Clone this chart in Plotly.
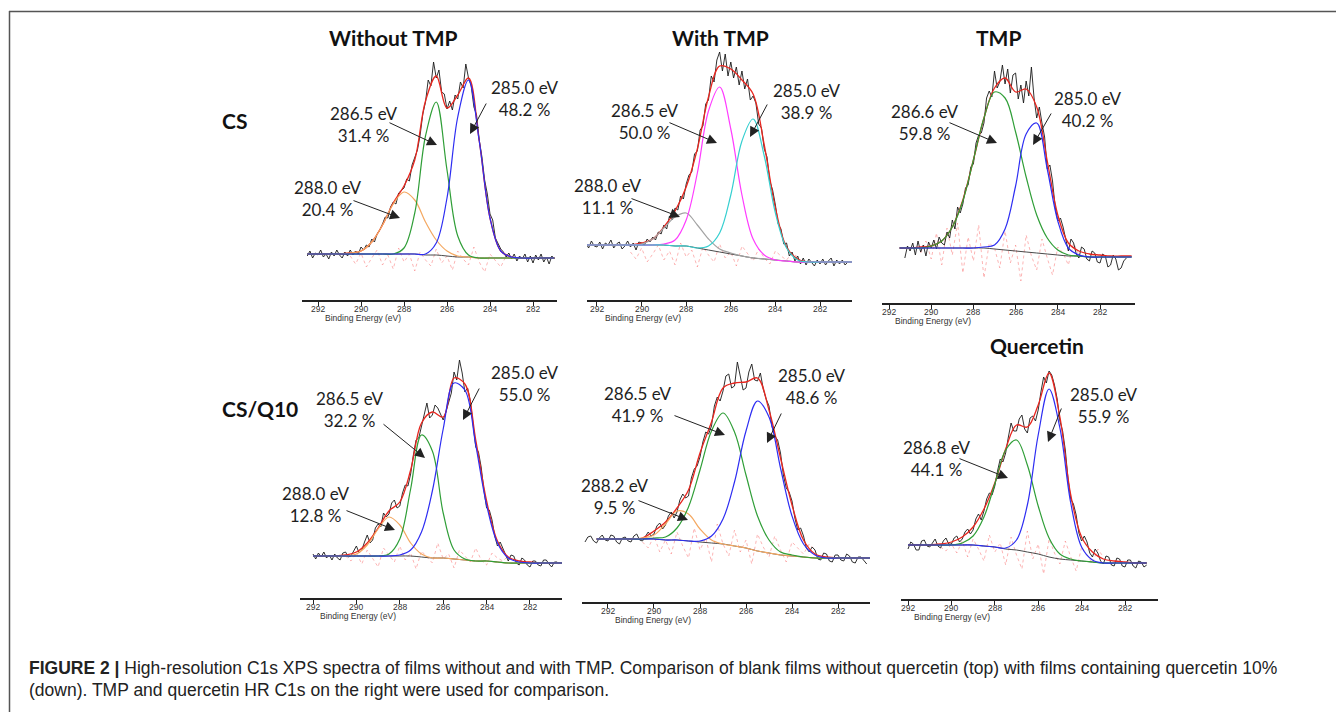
import plotly.graph_objects as go

W, H = 1344, 712
OFF = 8  # the page body adds an 8 px margin; reference pixel coords are shifted by it

# ---------------- shared energy grids (eV) ----------------
E_FIT = [292.5, 292.0, 291.5, 291.0, 290.5, 290.0, 289.5, 289.0, 288.5, 288.0, 287.5, 287.0,
         286.5, 286.0, 285.5, 285.0, 284.5, 284.0, 283.5, 283.0, 282.5, 282.0, 281.5, 281.0, 280.5]
E_RAW = [293.0, 292.875, 292.75, 292.625, 292.5, 292.375, 292.25, 292.125,
         292.0, 291.875, 291.75, 291.625, 291.5, 291.375, 291.25, 291.125,
         291.0, 290.875, 290.75, 290.625, 290.5, 290.375, 290.25, 290.125,
         290.0, 289.875, 289.75, 289.625, 289.5, 289.375, 289.25, 289.125,
         289.0, 288.875, 288.75, 288.625, 288.5, 288.375, 288.25, 288.125,
         288.0, 287.875, 287.75, 287.625, 287.5, 287.375, 287.25, 287.125,
         287.0, 286.875, 286.75, 286.625, 286.5, 286.375, 286.25, 286.125,
         286.0, 285.875, 285.75, 285.625, 285.5, 285.375, 285.25, 285.125,
         285.0, 284.875, 284.75, 284.625, 284.5, 284.375, 284.25, 284.125,
         284.0, 283.875, 283.75, 283.625, 283.5, 283.375, 283.25, 283.125,
         283.0, 282.875, 282.75, 282.625, 282.5, 282.375, 282.25, 282.125,
         282.0, 281.875, 281.75, 281.625, 281.5, 281.375, 281.25, 281.125,
         281.0, 280.875, 280.75]
E_RES = [290.5, 290.25, 290.0, 289.75, 289.5, 289.25, 289.0, 288.75, 288.5, 288.25, 288.0, 287.75,
         287.5, 287.25, 287.0, 286.75, 286.5, 286.25, 286.0, 285.75, 285.5, 285.25, 285.0, 284.75,
         284.5, 284.25, 284.0, 283.75, 283.5, 283.25, 283.0]

TICK_VALS = [292, 290, 288, 286, 284, 282]
TICK_TEXT = ["292", "290", "288", "286", "284", "282"]
X_TITLE = "Binding Energy (eV)"
COLUMN_TITLES = ["Without TMP", "With TMP", "TMP", "Quercetin"]
ROW_LABELS = ["CS", "CS/Q10"]
CAPTION_1 = ("<b>FIGURE 2 |</b> High-resolution C1s XPS spectra of films without and with TMP. "
             "Comparison of blank films without quercetin (top) with films containing quercetin 10%")
CAPTION_2 = "(down). TMP and quercetin HR C1s on the right were used for comparison."

# ---------------- panel 1 : CS, without TMP ----------------
P1_RAW = [None, None, None, None, 44, 49, 42, 47,
          45, 50, 43, 46, 41, 48, 44, 50,
          45, 42, 48, 44, 50, 45, 49, 46,
          53, 50, 55, 53, 61, 58, 66, 70,
          76, 83, 82, 93, 98, 96, 107, 110,
          112, 121, 119, 135, 142, 150, 165, 186,
          198, 220, 214, 238, 222, 230, 208, 206,
          191, 199, 190, 205, 201, 218, 212, 236,
          222, 214, 193, 185, 160, 143, 120, 106,
          86, 80, 62, 57, 51, 48, 43, 47,
          41, 46, 39, 44, 41, 46, 38, 44,
          37, 45, 40, 46, 38, 43, 36, 44,
          41, None, None]
P1_BG = [46, 46, 46, 46, 46, 46, 46, 46, 46, 46, 46, 45, 45, 44, 43, 43, 42, 42, 42, 42, 42, 42, 42, 42, None]
P1_ENV = [46, 46, 46, 46, 47, 49, 58, 75, 97, 114, 140, 199, 224, 192, 205, 222, 159, 82, 49, 43, 42, 42, 42, 42, None]
P1_C288 = [46, 46, 46, 46, 47, 49, 58, 75, 96, 108, 100, 78, 60, 49, 44, 43, 42, 42, 42, 42, 42, 42, 42, 42, None]
P1_C2865 = [46, 46, 46, 46, 46, 46, 46, 46, 46, 52, 87, 164, 198, 130, 64, 45, 42, 42, 42, 42, 42, 42, 42, 42, None]
P1_C285 = [46, 46, 46, 46, 46, 46, 46, 46, 46, 46, 46, 46, 57, 102, 183, 220, 159, 82, 49, 43, 42, 42, 42, 42, None]
P1_RES = [44, 36, 47, 33, 42, 50, 35, 45, 31, 52, 38, 46, 29, 48, 40, 34, 51, 37, 44, 30, 49, 41, 35,
          53, 38, 28, 46, 39, 33, 44, 40]
P1_LABELS = [("285.0 eV", "48.2 %"), ("286.5 eV", "31.4 %"), ("288.0 eV", "20.4 %")]

# ---------------- panel 2 : CS, with TMP ----------------
P2_RAW = [None, None, None, None, 57, 52, 59, 54,
          53, 58, 51, 57, 55, 60, 52, 56,
          58, 51, 54, 59, 53, 57, 50, 58,
          57, 55, 61, 58, 63, 60, 68, 66,
          75, 71, 84, 80, 92, 90, 104, 101,
          116, 125, 128, 146, 149, 170, 174, 196,
          200, 224, 218, 240, 248, 229, 246, 224,
          238, 222, 233, 215, 229, 211, 221, 200,
          204, 197, 176, 172, 151, 143, 119, 110,
          95, 76, 71, 56, 57, 44, 48, 39,
          44, 36, 42, 35, 41, 37, 34, 40,
          36, 41, 35, 39, 42, 34, 40, 36,
          40, 35, 38]
P2_BG = [55, 55, 55, 55, 55, 55, 55, 55, 54, 54, 52, 50, 48, 46, 44, 42, 41, 40, 39, 38, 38, 38, 38, 38, 38]
P2_ENV = [55, 55, 55, 55, 55, 57, 61, 73, 89, 113, 151, 203, 234, 231, 220, 206, 155, 92, 53, 41, 38, 38, 38, 38, 38]
P2_C288 = [55, 55, 55, 55, 55, 56, 61, 72, 83, 87, 75, 61, 51, 47, 44, 42, 41, 40, 39, 38, 38, 38, 38, 38, 38]
P2_C2865 = [55, 55, 55, 55, 55, 55, 55, 56, 60, 80, 127, 189, 213, 171, 105, 61, 45, 40, 39, 38, 38, 38, 38, 38, 38]
P2_C285 = [55, 55, 55, 55, 55, 55, 55, 55, 54, 54, 52, 54, 67, 105, 159, 181, 144, 87, 52, 40, 38, 38, 38, 38, 38]
P2_RES = [48, 41, 52, 38, 46, 55, 40, 49, 35, 57, 43, 50, 33, 53, 45, 38, 56, 42, 48, 34, 54, 46, 39,
          51, 42, 36, 49, 44, 40, 47, 43]
P2_LABELS = [("285.0 eV", "38.9 %"), ("286.5 eV", "50.0 %"), ("288.0 eV", "11.1 %")]

# ---------------- panel 3 : TMP ----------------
P3_RAW = [None, None, None, None, None, None, None, None,
          None, None, None, None, None, None, 45, 57,
          52, 60, 48, 62, 51, 58, 47, 61,
          55, 63, 54, 66, 60, 58, 71, 65,
          83, 74, 96, 90, 99, 115, 118, 136,
          139, 160, 168, 170, 180, 205, 212, 206,
          232, 215, 221, 238, 219, 234, 210, 228,
          230, 204, 218, 200, 222, 207, 236, 205,
          185, 196, 180, 166, 134, 138, 122, 96,
          82, 85, 76, 62, 52, 64, 60, 49,
          45, 56, 54, 44, 42, 52, 50, 41,
          40, 49, 47, 36, 38, 48, 44, 33,
          35, 42, 45]
P3_BG = [None, None, 55, 55, 55, 55, 55, 55, 55, 55, 55, 54, 53, 52, 51, 50, 49, 48, 47, 47, 46, 46, 46, 46, 46]
P3_ENV = [None, None, 55, 55, 56, 57, 62, 76, 103, 143, 185, 215, 225, 211, 214, 196, 142, 88, 60, 52, 49, 48, 47, 47, 47]
P3_C2866 = [None, None, 55, 55, 55, 57, 62, 76, 102, 143, 185, 211, 205, 171, 126, 88, 65, 53, 48, 47, 46, 46, 46, 46, 46]
P3_C285 = [None, None, 55, 55, 55, 55, 55, 55, 55, 55, 56, 58, 74, 117, 169, 180, 134, 82, 55, 48, 46, 46, 46, 46, 46]
P3_RES = [50, 62, 44, 70, 38, 75, 48, 80, 30, 66, 42, 78, 25, 60, 55, 35, 72, 40, 58, 22, 68, 47, 33,
          64, 45, 28, 56, 50, 38, 60, 48]
P3_LABELS = [("285.0 eV", "40.2 %"), ("286.6 eV", "59.8 %")]

# ---------------- panel 4 : CS/Q10, without TMP ----------------
P4_RAW = [None, None, None, None, None, None, None, None,
          44, 39, 45, 41, 46, 40, 43, 38,
          44, 40, 38, 45, 46, 41, 42, 47,
          52, 45, 48, 56, 63, 55, 58, 70,
          74, 71, 85, 81, 84, 95, 98, 90,
          92, 105, 113, 112, 124, 143, 158, 160,
          172, 186, 195, 180, 183, 193, 190, 184,
          178, 186, 197, 205, 226, 218, 238, 225,
          206, 210, 197, 172, 151, 146, 131, 108,
          90, 88, 78, 62, 52, 56, 49, 42,
          37, 43, 42, 35, 33, 40, 38, 33,
          31, 37, 37, 33, 32, 38, 38, 34,
          31, 36, 36]
P4_BG = [None, 42, 42, 42, 42, 42, 42, 42, 42, 42, 42, 41, 40, 40, 39, 38, 37, 37, 36, 35, 35, 35, 35, 35, 35]
P4_ENV = [None, 42, 42, 42, 43, 46, 55, 70, 87, 96, 128, 175, 186, 181, 220, 214, 158, 97, 57, 41, 37, 36, 35, 35, 35]
P4_C288 = [None, 42, 42, 42, 42, 44, 53, 69, 81, 73, 55, 44, 40, 40, 39, 38, 37, 37, 36, 35, 35, 35, 35, 35, 35]
P4_C2865 = [None, 42, 42, 42, 42, 42, 42, 42, 44, 59, 109, 163, 147, 85, 48, 39, 37, 37, 36, 35, 35, 35, 35, 35, 35]
P4_C285 = [None, 42, 42, 42, 42, 42, 42, 42, 42, 43, 48, 66, 107, 169, 215, 208, 153, 93, 55, 40, 36, 35, 35, 35, 35]
P4_RES = [42, 37, 45, 34, 48, 40, 31, 50, 43, 36, 52, 38, 45, 29, 47, 41, 35, 55, 39, 44, 30, 48, 42,
          36, 50, 38, 33, 45, 40, 37, 42]
P4_LABELS = [("285.0 eV", "55.0 %"), ("286.5 eV", "32.2 %"), ("288.0 eV", "12.8 %")]

# ---------------- panel 5 : CS/Q10, with TMP ----------------
P5_RAW = [60, 65, 66, 61, 59, 64, 67, 62,
          61, 67, 66, 60, 58, 64, 65, 61,
          60, 66, 68, 62, 61, 65, 70, 66,
          68, 76, 79, 73, 77, 86, 90, 84,
          90, 102, 108, 104, 106, 124, 133, 136,
          145, 160, 170, 168, 176, 196, 205, 201,
          211, 226, 228, 214, 216, 240, 227, 212,
          214, 230, 238, 222, 221, 229, 213, 203,
          196, 176, 166, 162, 149, 127, 114, 110,
          101, 84, 72, 74, 66, 54, 50, 55,
          52, 43, 42, 49, 48, 41, 40, 47,
          47, 42, 41, 48, 46, 40, 39, 45,
          45, 41, 38]
P5_BG = [63, 63, 63, 63, 63, 63, 62, 62, 61, 60, 59, 58, 56, 54, 51, 49, 47, 46, 45, 44, 44, 44, 44, 44, 44]
P5_ENV = [63, 63, 63, 63, 64, 71, 80, 94, 112, 149, 180, 214, 219, 220, 224, 192, 144, 97, 62, 48, 45, 44, 44, 44, 44]
P5_C2882 = [63, 63, 63, 63, 64, 67, 78, 91, 88, 73, 62, 58, 56, 54, 51, 49, 47, 46, 45, 44, 44, 44, 44, 44, 44]
P5_C2865 = [63, 63, 63, 63, 63, 64, 65, 74, 95, 132, 171, 189, 170, 127, 86, 62, 50, 47, 45, 44, 44, 44, 44, 44, 44]
P5_C285 = [63, 63, 63, 63, 63, 63, 62, 62, 61, 61, 66, 83, 120, 171, 201, 185, 134, 86, 58, 47, 44, 44, 44, 44, 44]
P5_RES = [60, 54, 66, 50, 62, 48, 70, 56, 44, 74, 52, 64, 40, 78, 58, 46, 72, 50, 62, 38, 68, 55, 45,
          66, 52, 40, 60, 54, 48, 58, 52]
P5_LABELS = [("285.0 eV", "48.6 %"), ("286.5 eV", "41.9 %"), ("288.2 eV", "9.5 %")]

# ---------------- panel 6 : Quercetin ----------------
P6_RAW = [None, None, None, None, None, None, None, None,
          50, 57, 55, 49, 49, 58, 59, 53,
          52, 56, 60, 53, 51, 58, 61, 55,
          55, 61, 63, 57, 60, 67, 70, 65,
          69, 80, 85, 79, 88, 100, 106, 104,
          113, 128, 140, 137, 146, 162, 176, 168,
          168, 180, 184, 170, 166, 181, 183, 178,
          189, 207, 222, 216, 228, 224, 214, 200,
          178, 168, 149, 120, 100, 95, 84, 66,
          58, 63, 57, 46, 42, 50, 46, 38,
          35, 43, 42, 34, 33, 41, 40, 33,
          32, 39, 39, 33, 31, 38, 37, 32,
          34, None, None]
P6_BG = [None, 54, 54, 54, 54, 54, 54, 54, 53, 52, 50, 49, 47, 45, 42, 40, 39, 38, 37, 36, 36, 36, 36, 36, None]
P6_ENV = [None, 54, 54, 54, 55, 57, 62, 72, 90, 116, 150, 174, 172, 194, 226, 182, 104, 62, 47, 40, 38, 37, 36, 36, None]
P6_C2868 = [None, 54, 54, 54, 54, 54, 56, 63, 82, 115, 149, 159, 134, 93, 61, 45, 40, 38, 37, 36, 36, 36, 36, 36, None]
P6_C285 = [None, 54, 54, 54, 54, 54, 54, 54, 53, 52, 51, 59, 94, 164, 210, 171, 96, 52, 39, 36, 36, 36, 36, 36, None]
P6_RES = [52, 48, 55, 46, 58, 42, 60, 50, 38, 64, 47, 56, 34, 62, 44, 30, 68, 40, 55, 25, 60, 46, 35,
          58, 42, 28, 52, 44, 36, 50, 42]
P6_LABELS = [("285.0 eV", "55.9 %"), ("286.8 eV", "44.1 %")]

# ---------------- styles ----------------
C_RAW = "#1a1a1a"
C_ENV = "#e8261f"
C_BG = "#4a4a4a"
C_ORANGE = "#f4a861"
C_GREEN = "#2f9e37"
C_BLUE = "#2d2df2"
C_MAGENTA = "#ff3cff"
C_CYAN = "#35cfd0"
C_GREY = "#a3a3a3"
C_RES = "rgba(250,120,120,0.55)"
LABEL_FONT = "Lato, 'Open Sans', sans-serif"
AXIS_FONT = "'Liberation Sans', Arial, sans-serif"


def X(px):
    return (px - OFF) / W


def Y(py):
    return 1 - (py - OFF) / H


# layout of the six panels (pixel geometry of the reference) -- positions/styles only
panels = [
    dict(raw=P1_RAW, bg=P1_BG, env=P1_ENV, res=P1_RES, labels=P1_LABELS,
         comps=[(P1_C288, C_ORANGE), (P1_C2865, C_GREEN), (P1_C285, C_BLUE)],
         xpx=(302, 557), axis_y=300, xr=(292.744, 280.884), xt=(323, 318),
         label_pos=[(525, 98), (364, 124), (328, 198.5)],
         arrows=[((487, 102), (470, 134)), ((388, 122), (437, 145)), ((352, 200), (400, 218))]),
    dict(raw=P2_RAW, bg=P2_BG, env=P2_ENV, res=P2_RES, labels=P2_LABELS,
         comps=[(P2_C288, C_GREY), (P2_C2865, C_MAGENTA), (P2_C285, C_CYAN)],
         xpx=(587, 852), axis_y=300, xr=(292.448, 280.565), xt=(603, 318),
         label_pos=[(807, 101), (645, 121.5), (608, 196.5)],
         arrows=[((768, 103), (750, 137)), ((668, 122), (717, 143)), ((630, 198), (680, 217))]),
    dict(raw=P3_RAW, bg=P3_BG, env=P3_ENV, res=P3_RES, labels=P3_LABELS,
         comps=[(P3_C2866, C_GREEN), (P3_C285, C_BLUE)],
         xpx=(882, 1135), axis_y=303, xr=(292.332, 280.341), xt=(893, 321),
         label_pos=[(1088, 110), (925, 122)],
         arrows=[((1052, 112), (1033, 145)), ((948, 122), (997, 143))]),
    dict(raw=P4_RAW, bg=P4_BG, env=P4_ENV, res=P4_RES, labels=P4_LABELS,
         comps=[(P4_C288, C_ORANGE), (P4_C2865, C_GREEN), (P4_C285, C_BLUE)],
         xpx=(300, 562), axis_y=598, xr=(292.599, 280.525), xt=(318, 616),
         label_pos=[(525, 384), (350, 409), (316, 505)],
         arrows=[((480, 387), (463, 420)), ((382, 423), (425, 458)), ((345, 510), (395, 530))]),
    dict(raw=P5_RAW, bg=P5_BG, env=P5_ENV, res=P5_RES, labels=P5_LABELS,
         comps=[(P5_C2882, C_ORANGE), (P5_C2865, C_GREEN), (P5_C285, C_BLUE)],
         xpx=(582, 870), axis_y=602, xr=(293.13, 280.609), xt=(613, 620),
         label_pos=[(812, 386), (638, 405), (615, 496)],
         arrows=[((782, 412), (767, 443)), ((673, 415), (725, 435)), ((637, 500), (688, 520))]),
    dict(raw=P6_RAW, bg=P6_BG, env=P6_ENV, res=P6_RES, labels=P6_LABELS,
         comps=[(P6_C2868, C_GREEN), (P6_C285, C_BLUE)],
         xpx=(901, 1158), axis_y=599, xr=(292.323, 280.479), xt=(912, 617),
         label_pos=[(1104, 405.5), (937, 458.5)],
         arrows=[((1062, 407), (1048, 442)), ((958, 458), (1008, 478))]),
]

Y_SPAN = 250  # plot height in px (intensity units are px above the axis)

fig = go.Figure()
annotations = []
layout_axes = {}

for i, p in enumerate(panels, start=1):
    xa = "x" if i == 1 else f"x{i}"
    ya = "y" if i == 1 else f"y{i}"
    common = dict(xaxis=xa, yaxis=ya, mode="lines", hoverinfo="skip", showlegend=False)
    fig.add_trace(go.Scatter(x=E_RES, y=p["res"], line=dict(color=C_RES, width=1, dash="dot"), **common))
    fig.add_trace(go.Scatter(x=E_RAW, y=p["raw"], line=dict(color=C_RAW, width=0.9), **common))
    fig.add_trace(go.Scatter(x=E_FIT, y=p["bg"], line=dict(color=C_BG, width=1, shape="spline"), **common))
    fig.add_trace(go.Scatter(x=E_FIT, y=p["env"], line=dict(color=C_ENV, width=1.3, shape="spline"), **common))
    for vals, col in p["comps"]:
        fig.add_trace(go.Scatter(x=E_FIT, y=vals, line=dict(color=col, width=1.2, shape="spline"), **common))

    x0, x1 = p["xpx"]
    ay = p["axis_y"]
    layout_axes["xaxis" if i == 1 else f"xaxis{i}"] = dict(
        domain=[X(x0), X(x1)], range=list(p["xr"]), anchor=ya,
        showline=True, linecolor="#222", linewidth=1.6, mirror=False,
        ticks="outside", ticklen=4, tickwidth=1, tickcolor="#222",
        tickvals=TICK_VALS, showticklabels=False,
        showgrid=False, zeroline=False, fixedrange=True)
    layout_axes["yaxis" if i == 1 else f"yaxis{i}"] = dict(
        domain=[Y(ay), Y(ay - Y_SPAN)], range=[0, Y_SPAN], anchor=xa,
        visible=False, showgrid=False, zeroline=False, fixedrange=True)

    # tick labels, placed close under the axis as in the reference
    for tv, tt in zip(TICK_VALS, TICK_TEXT):
        annotations.append(dict(x=tv, y=Y(ay + 8.5), xref=xa, yref="paper", text=tt,
                                showarrow=False, xanchor="center", yanchor="middle",
                                font=dict(family=AXIS_FONT, size=8.5, color="#333")))
    # x-axis title
    annotations.append(dict(x=X(p["xt"][0]), y=Y(p["xt"][1]), xref="paper", yref="paper",
                            text=X_TITLE, showarrow=False, xanchor="left", yanchor="middle",
                            font=dict(family=AXIS_FONT, size=8.5, color="#333")))
    # peak labels
    for (l1, l2), (cx, cy) in zip(p["labels"], p["label_pos"]):
        annotations.append(dict(x=X(cx), y=Y(cy), xref="paper", yref="paper",
                                text=f"{l1}<br>{l2}", showarrow=False, xanchor="center",
                                yanchor="middle", align="center",
                                font=dict(family=LABEL_FONT, size=17, color="#1e1e1e")))
    for (tx, ty), (hx, hy) in p["arrows"]:
        annotations.append(dict(x=X(hx), y=Y(hy), xref="paper", yref="paper",
                                ax=tx - hx, ay=ty - hy, text="", showarrow=True,
                                arrowhead=2, arrowsize=2.0, arrowwidth=1, arrowcolor="#222",
                                standoff=0))

# column titles and row labels
title_pos = [(393, 37), (720, 37), (998, 37), (1037, 345)]
for t, (cx, cy) in zip(COLUMN_TITLES, title_pos):
    annotations.append(dict(x=X(cx), y=Y(cy), xref="paper", yref="paper", text=f"<b>{t}</b>",
                            showarrow=False, xanchor="center", yanchor="middle",
                            font=dict(family=LABEL_FONT, size=21, color="#111")))
row_pos = [(220, 120.5), (220, 408)]
for t, (lx, cy) in zip(ROW_LABELS, row_pos):
    annotations.append(dict(x=X(lx), y=Y(cy), xref="paper", yref="paper", text=f"<b>{t}</b>",
                            showarrow=False, xanchor="left", yanchor="middle",
                            font=dict(family=LABEL_FONT, size=21, color="#111")))

# caption
for t, cy in [(CAPTION_1, 668), (CAPTION_2, 690)]:
    annotations.append(dict(x=X(27), y=Y(cy), xref="paper", yref="paper", text=t,
                            showarrow=False, xanchor="left", yanchor="middle",
                            font=dict(family=AXIS_FONT, size=17.5, color="#222")))

shapes = [
    dict(type="line", xref="paper", yref="paper", x0=X(9), x1=1, y0=Y(11.5), y1=Y(11.5),
         line=dict(color="#555", width=1.5)),
    dict(type="line", xref="paper", yref="paper", x0=X(9.5), x1=X(9.5), y0=Y(11), y1=0,
         line=dict(color="#555", width=1.5)),
]

fig.update_layout(
    width=W, height=H, margin=dict(l=0, r=0, t=0, b=0),
    paper_bgcolor="white", plot_bgcolor="rgba(0,0,0,0)",
    showlegend=False, annotations=annotations, shapes=shapes,
    **layout_axes)

fig.write_html("out.html")
